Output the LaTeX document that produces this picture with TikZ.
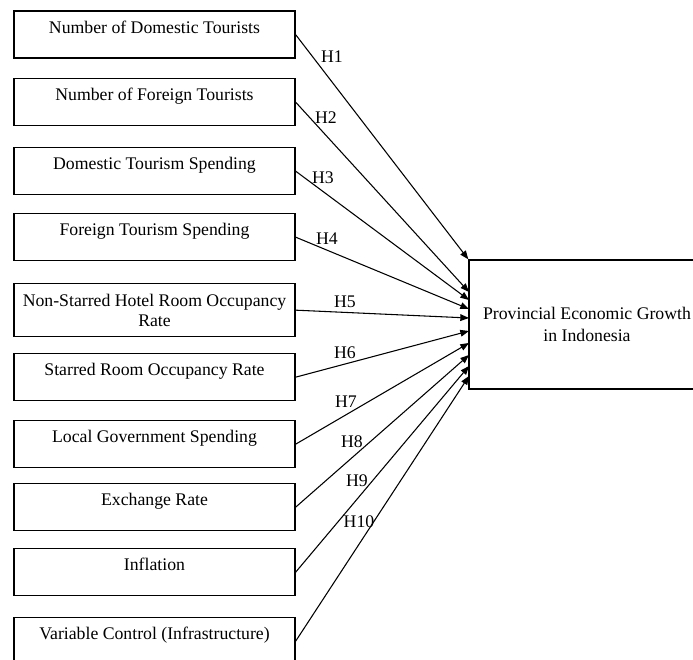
\documentclass[tikz,border=0pt]{standalone}
\usepackage{fontspec}
\setmainfont{Liberation Serif}
\usetikzlibrary{arrows.meta, positioning}

\begin{document}
\begin{tikzpicture}[
    x=0.75pt, y=-0.75pt,
    varbox/.style={
        draw,
        line width=1pt,
        anchor=north,
        minimum width=210.75pt,
        inner sep=0pt,
        text height=16.5pt,
        text depth=18.75pt,
        font=\fontsize{13.3}{15.5}\selectfont
    },
    twobox/.style={
        draw,
        line width=1pt,
        anchor=north,
        align=center,
        minimum width=210.75pt,
        minimum height=39.75pt,
        inner sep=0pt,
        font=\fontsize{13.3}{15}\selectfont
    },
    mainbox/.style={
        draw,
        line width=1pt,
        align=center,
        minimum width=177pt,
        minimum height=96.75pt,
        font=\fontsize{13.3}{16.5}\selectfont
    },
    hyp/.style={font=\fontsize{13.3}{15.5}\selectfont, inner sep=0pt},
    arrow/.style={-{Triangle[length=6.5pt,width=5pt]}, line width=0.8pt}
]

\clip (0,0) rectangle (693,660);

% --- Independent variables
\node[varbox] (domtour) at (154.5,10.5) {Number of Domestic Tourists};
\node[varbox] (fortour) at (154.5,78) {Number of Foreign Tourists};
\node[varbox] (domspend) at (154.5,147) {Domestic Tourism Spending};
\node[varbox] (forspend) at (154.5,213) {Foreign Tourism Spending};
\node[twobox] (nshotel) at (154.5,283) {Non-Starred Hotel Room Occupancy\\Rate};
\node[varbox] (shotel) at (154.5,353) {Starred Room Occupancy Rate};
\node[varbox] (govspend) at (154.5,420) {Local Government Spending};
\node[varbox] (exrate) at (154.5,483) {Exchange Rate};
\node[varbox] (inflation) at (154.5,548) {Inflation};
\node[varbox] (infra) at (154.5,617) {Variable Control (Infrastructure)};

% --- Dependent variable
\node[mainbox] (growth) at (587,324.5) {Provincial Economic Growth\\in Indonesia};

% --- Arrow ends on the left side of growth
\coordinate (t2) at (469,292);
\coordinate (t3) at (469,300);
\coordinate (t4) at (469,309);
\coordinate (t5) at (469,318);
\coordinate (t6) at (469,331);
\coordinate (t7) at (469,343);
\coordinate (t8) at (469,355);
\coordinate (t9) at (469,366);
\coordinate (t10) at (469,376);

% --- Arrows
\draw[arrow] (domtour.east) -- (growth.north west);
\draw[arrow] (fortour.east) -- (t2);
\draw[arrow] (domspend.east) -- (t3);
\draw[arrow] (forspend.east) -- (t4);
\draw[arrow] (nshotel.east) -- (t5);
\draw[arrow] (shotel.east) -- (t6);
\draw[arrow] (govspend.east) -- (t7);
\draw[arrow] (exrate.east) -- (t8);
\draw[arrow] (inflation.east) -- (t9);
\draw[arrow] (infra.east) -- (t10);

% --- Hypothesis labels
\node[hyp] (h1) at (332,57) {H1};
\node[hyp] (h2) at (326,118) {H2};
\node[hyp] (h3) at (323,178) {H3};
\node[hyp] (h4) at (327,239) {H4};
\node[hyp] (h5) at (345,302) {H5};
\node[hyp] (h6) at (345,353) {H6};
\node[hyp] (h7) at (346,402) {H7};
\node[hyp] (h8) at (352,442) {H8};
\node[hyp] (h9) at (357,481) {H9};
\node[hyp] (h10) at (359,522) {H10};

\end{tikzpicture}
\end{document}
